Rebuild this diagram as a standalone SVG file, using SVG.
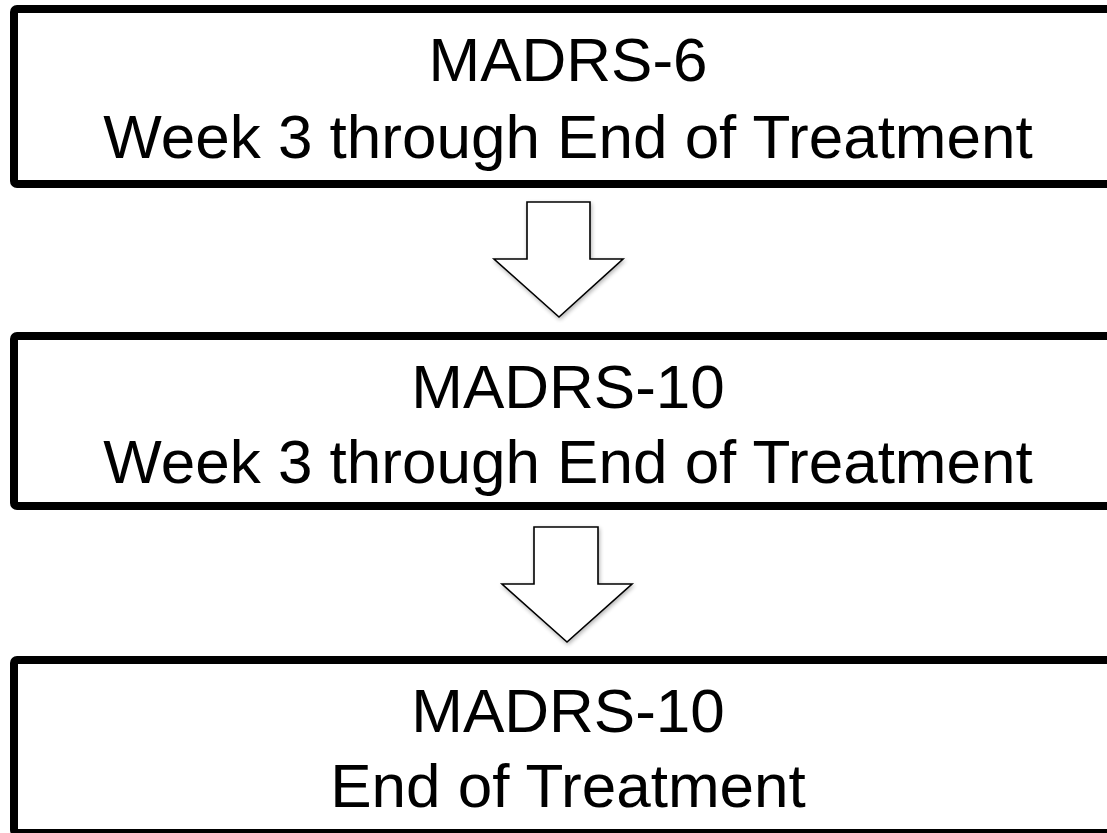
<svg xmlns="http://www.w3.org/2000/svg" width="1107" height="833" viewBox="0 0 1107 833">
  <defs>
    <style>
      .box { fill: #ffffff; stroke: #000000; stroke-width: 8; }
      .lbl { font-family: "Liberation Sans", Arial, sans-serif; font-size: 62px; fill: #000000; text-anchor: middle; }
      .arrow { fill: #ffffff; stroke: #000000; stroke-width: 1.6; stroke-linejoin: miter; }
    </style>
    <filter id="shadow" x="-20%" y="-20%" width="140%" height="140%">
      <feGaussianBlur in="SourceAlpha" stdDeviation="2"/>
      <feOffset dx="1" dy="2" result="b"/>
      <feComponentTransfer><feFuncA type="linear" slope="0.3"/></feComponentTransfer>
      <feMerge><feMergeNode/><feMergeNode in="SourceGraphic"/></feMerge>
    </filter>
  </defs>
  <rect width="1107" height="833" fill="#ffffff"/>
  <g id="node1">
    <rect class="box" x="14" y="9" width="1200" height="175" rx="3"/>
    <text class="lbl" x="568" y="81">MADRS-6</text>
    <text class="lbl" x="568" y="158">Week 3 through End of Treatment</text>
  </g>
  <g id="node2">
    <rect class="box" x="14" y="336" width="1200" height="170" rx="3"/>
    <text class="lbl" x="568" y="408">MADRS-10</text>
    <text class="lbl" x="568" y="483">Week 3 through End of Treatment</text>
  </g>
  <g id="node3">
    <rect class="box" x="14" y="660" width="1200" height="173" rx="3"/>
    <text class="lbl" x="568" y="732">MADRS-10</text>
    <text class="lbl" x="568" y="807">End of Treatment</text>
  </g>
  <g id="connectors">
    <path class="arrow" filter="url(#shadow)" d="M527,202 L590,202 L590,259 L623,259 L559,317 L494,259 L527,259 Z"/>
    <path class="arrow" filter="url(#shadow)" d="M534,527 L598,527 L598,584 L632,584 L567,642 L502,584 L534,584 Z"/>
  </g>
</svg>
